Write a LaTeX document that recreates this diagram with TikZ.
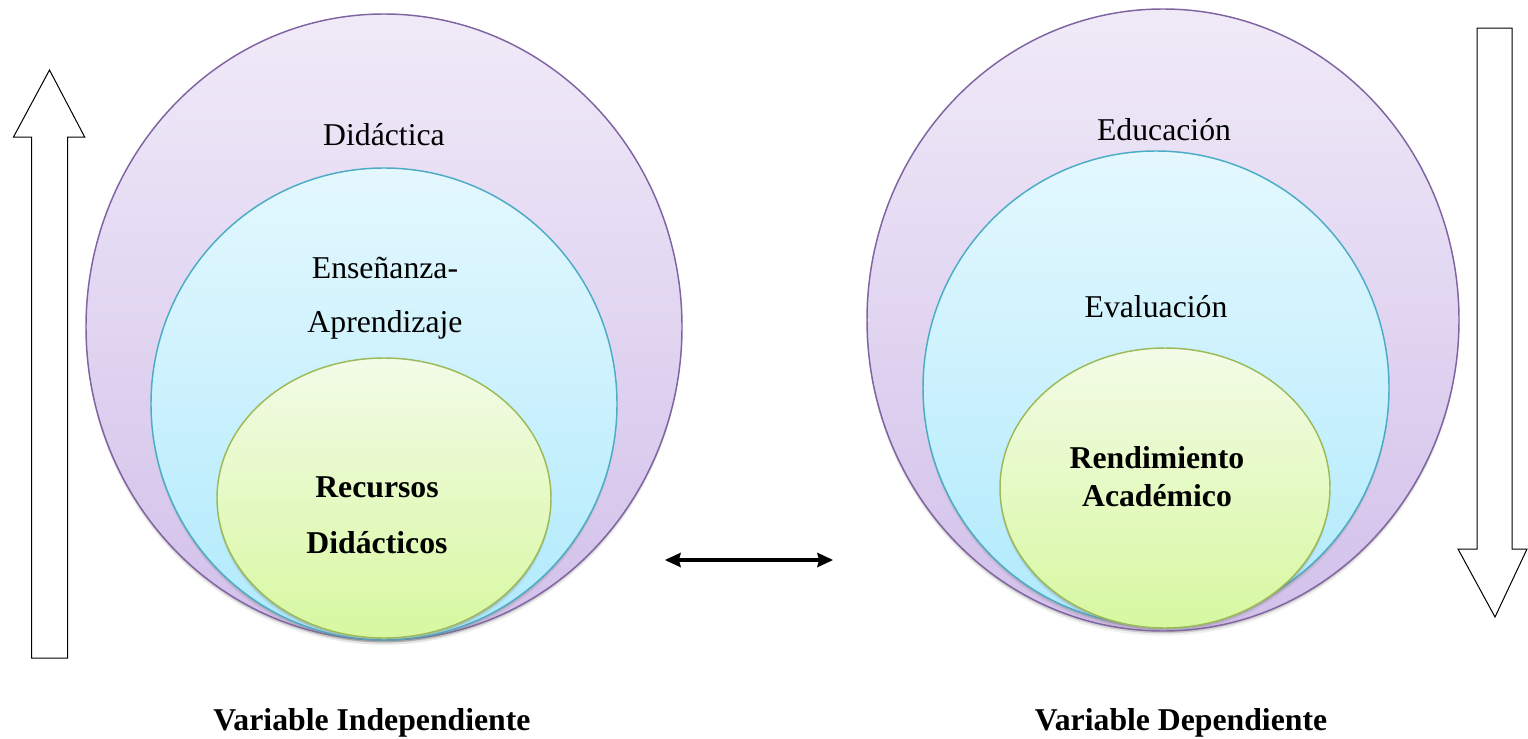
\documentclass[tikz,border=0pt]{standalone}
\usepackage{fontspec}
\setmainfont{Liberation Serif}
\usetikzlibrary{shadows}

\definecolor{outerLine}{RGB}{128,100,162}
\definecolor{outerTop}{RGB}{240,234,248}
\definecolor{outerBot}{RGB}{210,192,234}
\definecolor{middleLine}{RGB}{75,172,198}
\definecolor{middleTop}{RGB}{228,248,254}
\definecolor{middleBot}{RGB}{176,234,252}
\definecolor{innerLine}{RGB}{155,187,89}
\definecolor{innerTop}{RGB}{243,251,231}
\definecolor{innerBot}{RGB}{215,248,160}

\tikzset{every picture/.style={line width=0.75pt}}
\tikzset{
	ring text/.style={font=\fontsize{23.8}{28}\selectfont, anchor=base, inner sep=0pt},
	ring bold/.style={ring text, font=\fontsize{23.8}{28}\selectfont\bfseries},
	ring shadow/.style={drop shadow={shadow xshift=0pt, shadow yshift=-3.5pt, opacity=0.12},
		drop shadow={shadow xshift=0pt, shadow yshift=-1.8pt, opacity=0.3}}}

\begin{document}
\begin{tikzpicture}[x=0.75pt,y=0.75pt,yscale=-1,xscale=1]
	\useasboundingbox (0,0) rectangle (1528,739);

	%Shape: Ellipse Didactica
	\draw [draw=outerLine, line width=1.1pt, top color=outerTop, bottom color=outerBot, ring shadow] (384,327) ellipse (298 and 313);
	%Shape: Ellipse Ensenanza
	\draw [draw=middleLine, line width=1.1pt, top color=middleTop, bottom color=middleBot, ring shadow] (384,404) ellipse (233 and 236);
	%Shape: Ellipse Recursos
	\draw [draw=innerLine, line width=1.1pt, top color=innerTop, bottom color=innerBot, ring shadow] (384,498) ellipse (167 and 140);

	%Shape: Ellipse Educacion
	\draw [draw=outerLine, line width=1.1pt, top color=outerTop, bottom color=outerBot, ring shadow] (1163,320) ellipse (296 and 311);
	%Shape: Ellipse Evaluacion
	\draw [draw=middleLine, line width=1.1pt, top color=middleTop, bottom color=middleBot, ring shadow] (1156,388) ellipse (233 and 237);
	%Shape: Ellipse Rendimiento
	\draw [draw=innerLine, line width=1.1pt, top color=innerTop, bottom color=innerBot, ring shadow] (1165,488) ellipse (165 and 140);

	%Shape: Up Arrow
	\draw (31.5,658) -- (31.5,137) -- (13.5,137) -- (49.5,70) -- (84.7,137) -- (67.6,137) -- (67.6,658) -- cycle ;
	%Shape: Down Arrow
	\draw (1477,28) -- (1512,28) -- (1512,549) -- (1527,549) -- (1495,617) -- (1458,549) -- (1477,549) -- cycle ;

	%Straight Lines
	\coordinate (linkL) at (665,560);
	\coordinate (linkR) at (833,560);
	\draw [line width=3pt, shorten <=9pt, shorten >=9pt] (linkL) -- (linkR) ;
	\draw [shift={(linkL)}, rotate=0] [fill=black][draw opacity=0] (16,-7.5) -- (0,0) -- (16,7.5) -- (14,0) -- cycle ;
	\draw [shift={(linkR)}, rotate=180] [fill=black][draw opacity=0] (16,-7.5) -- (0,0) -- (16,7.5) -- (14,0) -- cycle ;

	% Text Node
	\node [ring text] (didactica) at (384,145) {Didáctica};
	% Text Node
	\node [ring text] (ensenanza) at (385,278) {Enseñanza-};
	% Text Node
	\node [ring text] (aprendizaje) at (385,332) {Aprendizaje};
	% Text Node
	\node [ring bold] (recursos) at (377,497) {Recursos};
	% Text Node
	\node [ring bold] (didacticos) at (377,553) {Didácticos};
	% Text Node
	\node [ring text] (educacion) at (1164,140) {Educación};
	% Text Node
	\node [ring text] (evaluacion) at (1156,317) {Evaluación};
	% Text Node
	\node [ring bold] (rendimiento) at (1157,468) {Rendimiento};
	% Text Node
	\node [ring bold] (academico) at (1157,506) {Académico};
	% Text Node
	\node [ring bold] (vindep) at (372,730) {Variable Independiente};
	% Text Node
	\node [ring bold] (vdep) at (1181,730) {Variable Dependiente};

\end{tikzpicture}
\end{document}
